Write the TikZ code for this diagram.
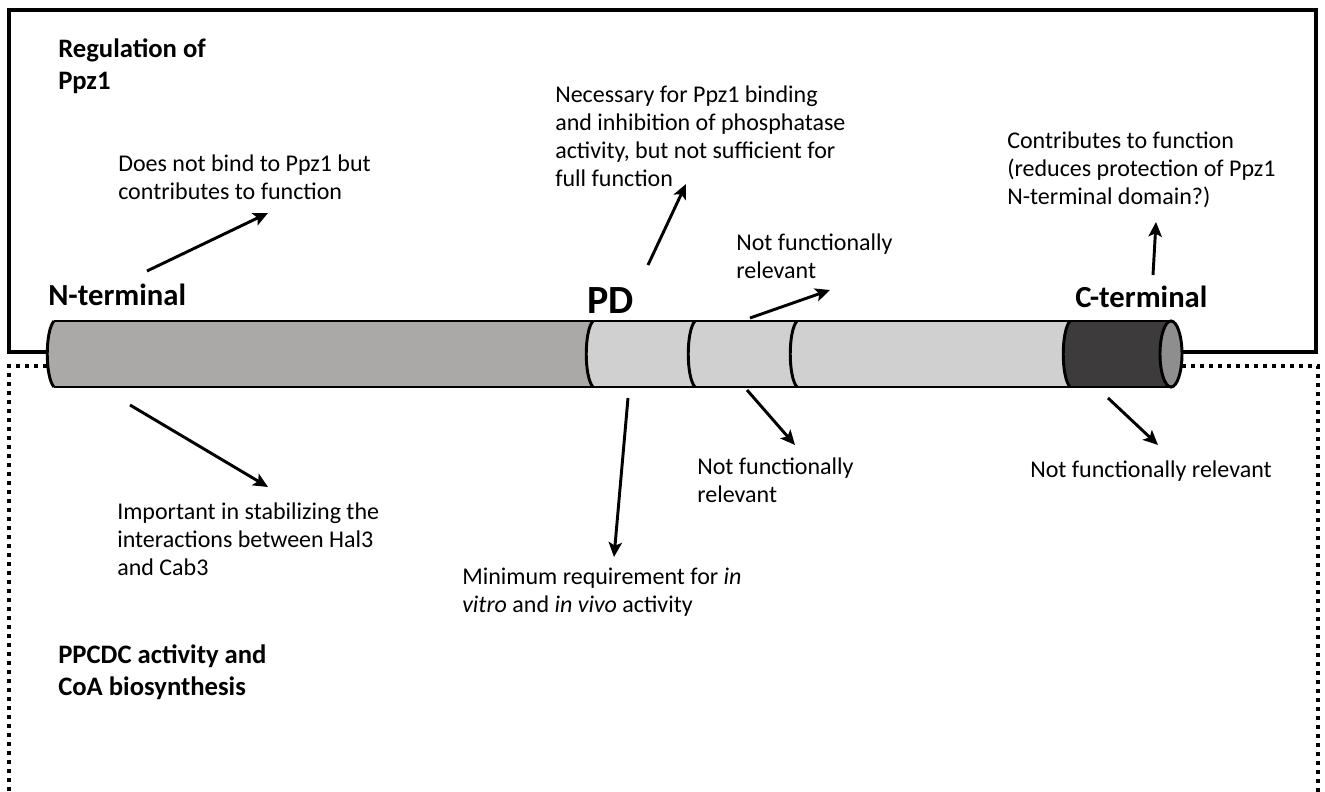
\documentclass[tikz,border=0pt]{standalone}
\usepackage{fontspec}
\setmainfont{Carlito}
\usepackage{xcolor}
\usetikzlibrary{arrows.meta, positioning}

\definecolor{ntgray}{RGB}{171,169,168}
\definecolor{midgray}{RGB}{209,208,209}
\definecolor{ctgray}{RGB}{61,59,59}
\definecolor{endgray}{RGB}{142,142,142}

\begin{document}
\begin{tikzpicture}[x=0.75pt, y=-0.75pt,
    note/.style={anchor=north west, inner sep=0pt, align=left, font=\fontsize{18}{21}\selectfont},
    head/.style={anchor=north west, inner sep=0pt, align=left, font=\fontsize{20}{24}\selectfont\bfseries},
    regionlabel/.style={anchor=north west, inner sep=0pt, font=\fontsize{23}{27}\selectfont\bfseries},
    pointer/.style={-{Stealth[length=11pt,width=10pt,inset=2.5pt]}, line width=2.2pt},
    frame/.style={line width=3pt},
    dotframe/.style={line width=3pt, dash pattern=on 3pt off 3.75pt},
    rod/.style={line width=2.2pt}]
    \useasboundingbox (0,0) rectangle (1325,792);

    % boxes
    \draw[frame] (47,352) -- (9,352) -- (9,10) -- (1316,10) -- (1316,352) -- (1182,352);
    \draw[dotframe] (47,366) -- (9,366) -- (9,792);
    \draw[dotframe] (1182,366) -- (1318,366) -- (1318,792);

    % protein rod
    \fill[midgray] (54,321) -- (1171,321) -- (1171,387) -- (54,387) .. controls (45,377) and (45,331) .. (54,321);
    \fill[ntgray] (54,321) -- (593,321) .. controls (584,331) and (584,377) .. (593,387) -- (54,387) .. controls (45,377) and (45,331) .. (54,321);
    \fill[ctgray] (1070,321) -- (1171,321) -- (1171,387) -- (1070,387) .. controls (1061,377) and (1061,331) .. (1070,321);
    \draw[rod] (54,321) -- (1171,321) (54,387) -- (1171,387);
    \draw[rod] (54,321) .. controls (45,331) and (45,377) .. (54,387);
    \foreach \cut in {593,695,797,1070}
        \draw[rod] (\cut,321) .. controls (\cut-9,331) and (\cut-9,377) .. (\cut,387);
    \draw[rod, fill=endgray] (1171,354) ellipse [x radius=11, y radius=33];

    % labels
    \node[head] (reg) at (58,38) {Regulation of\\Ppz1};
    \node[head] (ppcdc) at (58,644) {PPCDC activity and\\CoA biosynthesis};
    \node[regionlabel] (nterm) at (48,284) {N-terminal};
    \node[regionlabel, font=\fontsize{30}{34}\selectfont\bfseries] (pd) at (587,287) {PD};
    \node[regionlabel] (cterm) at (1075,286) {C-terminal};

    \node[note] (ntup) at (118,155) {Does not bind to Ppz1 but\\contributes to function};
    \node[note] (ntdown) at (117,503) {Important in stabilizing the\\interactions between Hal3\\and Cab3};
    \node[note] (pdup) at (555,86) {Necessary for Ppz1 binding\\and inhibition of phosphatase\\activity, but not sufficient for\\full function};
    \node[note] (pddown) at (462,568) {Minimum requirement for \textit{in}\\\textit{vitro} and \textit{in vivo} activity};
    \node[note] (midup) at (736,234) {Not functionally\\relevant};
    \node[note] (middown) at (697,458) {Not functionally\\relevant};
    \node[note] (ctup) at (1007,132) {Contributes to function\\(reduces protection of Ppz1\\N-terminal domain?)};
    \node[note] (ctdown) at (1030,461) {Not functionally relevant};

    % arrow ends
    \coordinate (a1) at (147,271);  \coordinate (b1) at (268,213);
    \coordinate (a2) at (130,405);  \coordinate (b2) at (268,487);
    \coordinate (a3) at (648,265);  \coordinate (b3) at (686,184);
    \coordinate (a4) at (628,398);  \coordinate (b4) at (614,557);
    \coordinate (a5) at (750,318);  \coordinate (b5) at (830,290);
    \coordinate (a6) at (747,390);  \coordinate (b6) at (795,445);
    \coordinate (a7) at (1153,275); \coordinate (b7) at (1156,222);
    \coordinate (a8) at (1108,398); \coordinate (b8) at (1158,445);

    \path[pointer]
    (a1) edge (b1)
    (a2) edge (b2)
    (a3) edge (b3)
    (a4) edge (b4)
    (a5) edge (b5)
    (a6) edge (b6)
    (a7) edge (b7)
    (a8) edge (b8);
\end{tikzpicture}
\end{document}
